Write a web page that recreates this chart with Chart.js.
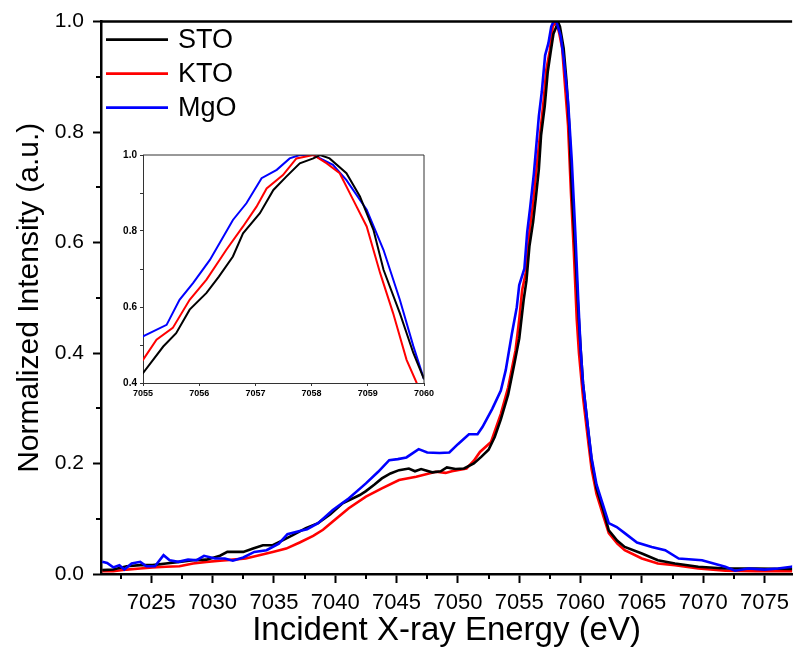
<!DOCTYPE html>
<html>
<head>
<meta charset="utf-8">
<script src="https://cdn.jsdelivr.net/npm/chart.js@4.4.1/dist/chart.umd.min.js"></script>
<style>
  body { margin: 0; background: #fff; }
  #wrap { position: relative; width: 796px; height: 652px; }
  #main { position: absolute; left: 0; top: 0; }
  #inset { position: absolute; left: 100px; top: 140px; }
</style>
</head>
<body>
<div id="wrap">
  <canvas id="main" width="796" height="652"></canvas>
  <canvas id="inset" width="340" height="265"></canvas>
</div>
<script>
// Series names and colours
const seriesNames = ['STO', 'KTO', 'MgO'];
const seriesColors = ['#000000', '#ff0000', '#0000ff'];

// STO (black): energy (eV) and normalized intensity
const stoEnergy = [7021.0, 7021.9, 7023.0, 7024.1, 7025.1, 7026.2, 7027.3, 7028.4, 7029.5, 7030.6,
  7031.2, 7032.5, 7033.3, 7034.1, 7034.9, 7035.7, 7036.5, 7037.6, 7038.6, 7039.6,
  7040.6, 7042.0, 7042.5, 7043.2, 7043.8, 7044.5, 7045.2, 7046.0, 7046.5, 7047.0,
  7047.9, 7048.6, 7049.1, 7049.8, 7050.5, 7051.3, 7051.9, 7052.5, 7053.0, 7053.5,
  7054.1, 7054.6, 7055.0, 7055.36, 7055.59, 7055.83, 7056.13, 7056.35, 7056.6, 7056.78,
  7057.08, 7057.32, 7057.55, 7057.79, 7058.03, 7058.15, 7058.32, 7058.62, 7058.86, 7059.1,
  7059.28, 7059.57, 7059.81, 7060.0, 7060.2, 7060.65, 7060.9, 7061.3, 7061.9, 7062.3,
  7063.0, 7063.6, 7065.0, 7066.3, 7067.7, 7069.6, 7071.8, 7074.3, 7077.5];
const stoIntensity = [0.007, 0.008, 0.014, 0.016, 0.016, 0.019, 0.022, 0.025, 0.026, 0.033,
  0.040, 0.040, 0.046, 0.052, 0.052, 0.061, 0.070, 0.083, 0.092, 0.108,
  0.128, 0.143, 0.150, 0.162, 0.173, 0.182, 0.188, 0.191, 0.186, 0.190,
  0.184, 0.186, 0.193, 0.190, 0.191, 0.200, 0.212, 0.225, 0.248, 0.280,
  0.325, 0.380, 0.426, 0.496, 0.531, 0.593, 0.637, 0.680, 0.733, 0.794,
  0.847, 0.908, 0.943, 0.978, 0.991, 1.000, 0.991, 0.952, 0.891, 0.803,
  0.698, 0.584, 0.479, 0.410, 0.345, 0.254, 0.206, 0.155, 0.112, 0.079,
  0.060, 0.049, 0.037, 0.025, 0.019, 0.013, 0.010, 0.010, 0.009];

// KTO (red)
const ktoEnergy = [7021.0, 7021.9, 7023.0, 7024.1, 7025.1, 7026.2, 7027.3, 7028.4, 7029.5, 7030.6,
  7031.65, 7032.7, 7033.8, 7034.9, 7036.0, 7037.1, 7038.2, 7039.0, 7039.8, 7041.1,
  7042.5, 7043.8, 7045.2, 7046.6, 7048.2, 7049.0, 7049.5, 7050.7, 7051.3, 7051.8,
  7052.7, 7053.5, 7054.1, 7054.7, 7055.0, 7055.24, 7055.53, 7055.83, 7056.13, 7056.48,
  7056.78, 7057.02, 7057.2, 7057.49, 7057.73, 7058.03, 7058.27, 7058.5, 7058.74, 7058.98,
  7059.22, 7059.45, 7059.69, 7059.87, 7060.2, 7060.65, 7060.9, 7061.3, 7061.9, 7062.3,
  7063.0, 7063.6, 7065.0, 7066.3, 7067.7, 7069.6, 7071.8, 7074.3, 7077.5];
const ktoIntensity = [0.005, 0.005, 0.008, 0.010, 0.012, 0.013, 0.014, 0.019, 0.022, 0.024,
  0.026, 0.028, 0.034, 0.040, 0.046, 0.057, 0.069, 0.080, 0.095, 0.119,
  0.140, 0.155, 0.170, 0.176, 0.185, 0.183, 0.186, 0.191, 0.205, 0.221,
  0.239, 0.290, 0.338, 0.405, 0.461, 0.514, 0.545, 0.619, 0.672, 0.750,
  0.812, 0.864, 0.912, 0.947, 0.991, 1.000, 0.978, 0.952, 0.882, 0.812,
  0.689, 0.584, 0.461, 0.400, 0.320, 0.235, 0.190, 0.145, 0.102, 0.074,
  0.055, 0.043, 0.028, 0.019, 0.016, 0.010, 0.006, 0.005, 0.005];

// MgO (blue)
const mgoEnergy = [7021.0, 7021.4, 7021.9, 7022.4, 7022.8, 7023.4, 7024.1, 7024.6, 7025.3, 7026.0,
  7026.5, 7027.2, 7028.0, 7028.7, 7029.3, 7030.2, 7031.0, 7031.65, 7032.5, 7033.4,
  7034.4, 7035.4, 7036.1, 7037.1, 7037.7, 7038.6, 7039.8, 7041.0, 7042.5, 7043.5,
  7044.4, 7045.1, 7045.8, 7046.8, 7047.5, 7048.5, 7049.3, 7050.0, 7050.9, 7051.6,
  7052.0, 7052.8, 7053.5, 7053.9, 7054.4, 7054.8, 7055.0, 7055.42, 7055.65, 7055.89,
  7056.19, 7056.6, 7056.84, 7057.11, 7057.38, 7057.61, 7057.79, 7058.03, 7058.38, 7058.62,
  7058.98, 7059.28, 7059.57, 7059.81, 7060.0, 7060.2, 7060.65, 7060.9, 7061.3, 7061.9,
  7062.3, 7062.95, 7063.6, 7064.6, 7065.8, 7066.9, 7068.0, 7069.9, 7071.8, 7072.6,
  7073.7, 7075.0, 7076.1, 7077.2, 7077.5];
const mgoIntensity = [0.022, 0.020, 0.012, 0.016, 0.008, 0.019, 0.022, 0.014, 0.014, 0.034,
  0.025, 0.022, 0.026, 0.025, 0.033, 0.028, 0.028, 0.024, 0.030, 0.040,
  0.043, 0.055, 0.072, 0.078, 0.081, 0.092, 0.116, 0.135, 0.164, 0.185,
  0.206, 0.208, 0.211, 0.226, 0.220, 0.219, 0.220, 0.235, 0.253, 0.253,
  0.266, 0.299, 0.332, 0.369, 0.435, 0.483, 0.523, 0.553, 0.619, 0.663,
  0.724, 0.829, 0.873, 0.939, 0.961, 0.991, 1.000, 1.000, 0.974, 0.934,
  0.856, 0.750, 0.619, 0.497, 0.410, 0.345, 0.256, 0.210, 0.162, 0.120,
  0.092, 0.085, 0.074, 0.057, 0.049, 0.043, 0.028, 0.025, 0.013, 0.006,
  0.010, 0.008, 0.010, 0.013, 0.016];

const seriesEnergy = [stoEnergy, ktoEnergy, mgoEnergy];
const seriesIntensity = [stoIntensity, ktoIntensity, mgoIntensity];

const FONT = '"Liberation Sans", Arial, sans-serif';

// Turn the arrays into {x, y} points
function points(i) {
  return seriesEnergy[i].map(function(e, k) {
    return { x: e, y: seriesIntensity[i][k] };
  });
}

function makeDatasets(lineWidth, orders) {
  return seriesNames.map(function(name, i) {
    return {
      label: name,
      data: points(i),
      borderColor: seriesColors[i],
      backgroundColor: seriesColors[i],
      borderWidth: lineWidth,
      pointRadius: 0,
      tension: 0,
      order: orders[i]
    };
  });
}

// Draws the top edge (and right edge for the inset) of the plot frame
const framePlugin = {
  id: 'frame',
  afterDraw(chart, args, opts) {
    const a = chart.chartArea;
    const ctx = chart.ctx;
    ctx.save();
    ctx.strokeStyle = opts.color || '#000';
    ctx.lineWidth = opts.width || 1;
    ctx.beginPath();
    ctx.moveTo(a.left, a.top);
    ctx.lineTo(a.right, a.top);
    if (opts.full) ctx.lineTo(a.right, a.bottom);
    ctx.stroke();
    ctx.restore();
  }
};

// Short minor ticks halfway between the labelled ones
const minorTicks = {
  id: 'minorTicks',
  afterDraw(chart, args, opts) {
    if (!opts.show) return;
    const ctx = chart.ctx;
    const xs = chart.scales.x;
    const ys = chart.scales.y;
    ctx.save();
    ctx.strokeStyle = '#000';
    ctx.lineWidth = 2;
    ctx.beginPath();
    for (let k = Math.ceil(xs.min / opts.xStep); k * opts.xStep <= xs.max; k++) {
      if (k % 2 === 0) continue;
      const px = Math.round(xs.getPixelForValue(k * opts.xStep));
      ctx.moveTo(px, xs.top);
      ctx.lineTo(px, xs.top + opts.len);
    }
    for (let k = Math.ceil(ys.min / opts.yStep); k * opts.yStep <= ys.max + 1e-9; k++) {
      if (k % 2 === 0) continue;
      const py = Math.round(ys.getPixelForValue(k * opts.yStep));
      ctx.moveTo(ys.right, py);
      ctx.lineTo(ys.right - opts.len, py);
    }
    ctx.stroke();
    ctx.restore();
  }
};

// Legend in the top-left corner of the plot
const cornerLegend = {
  id: 'cornerLegend',
  afterDraw(chart, args, opts) {
    if (!opts.show) return;
    const ctx = chart.ctx;
    const a = chart.chartArea;
    ctx.save();
    ctx.font = '27px ' + FONT;
    ctx.textBaseline = 'middle';
    chart.data.datasets.forEach(function(ds, i) {
      const y = a.top + 18 + i * 34;
      ctx.strokeStyle = ds.borderColor;
      ctx.lineWidth = 2.6;
      ctx.beginPath();
      ctx.moveTo(a.left + 5, y);
      ctx.lineTo(a.left + 67, y);
      ctx.stroke();
      ctx.fillStyle = '#000';
      ctx.fillText(ds.label, a.left + 77, y + 1);
    });
    ctx.restore();
  }
};

// Main chart
new Chart(document.getElementById('main'), {
  type: 'line',
  data: { datasets: makeDatasets(2.6, [1, 2, 0]) },
  plugins: [framePlugin, minorTicks, cornerLegend],
  options: {
    responsive: false,
    animation: false,
    layout: { padding: { top: 20, right: 0, left: 0, bottom: 0 } },
    plugins: {
      legend: { display: false },
      tooltip: { enabled: false },
      frame: { color: '#000', width: 2.5 },
      minorTicks: { show: true, xStep: 2.5, yStep: 0.1, len: 5 },
      cornerLegend: { show: true }
    },
    scales: {
      x: {
        type: 'linear',
        min: 7020.9,
        max: 7077.25,
        afterFit: function(scale) { scale.height = 78; },
        border: { color: '#000', width: 2.5 },
        grid: { drawOnChartArea: false, tickLength: 9, tickWidth: 2, tickColor: '#000' },
        ticks: {
          stepSize: 5,
          autoSkip: false,
          includeBounds: false,
          maxRotation: 0,
          padding: 7,
          color: '#000',
          font: { family: FONT, size: 22 },
          callback: function(v) { return String(v); }
        },
        title: {
          display: true,
          text: 'Incident X-ray Energy (eV)',
          color: '#000',
          font: { family: FONT, size: 33 },
          padding: { top: 0, bottom: 1 }
        }
      },
      y: {
        min: 0,
        max: 1,
        afterFit: function(scale) { scale.width = 101; },
        border: { color: '#000', width: 2.5 },
        grid: { drawOnChartArea: false, tickLength: 8, tickWidth: 2, tickColor: '#000' },
        ticks: {
          stepSize: 0.2,
          autoSkip: false,
          padding: 9,
          color: '#000',
          font: { family: FONT, size: 21 },
          callback: function(v) { return v.toFixed(1); }
        },
        title: {
          display: true,
          text: 'Normalized Intensity (a.u.)',
          color: '#000',
          font: { family: FONT, size: 30 },
          padding: { top: 12, bottom: 0 }
        }
      }
    }
  }
});

// Inset: zoom on the white line peak
new Chart(document.getElementById('inset'), {
  type: 'line',
  data: { datasets: makeDatasets(2, [0, 1, 2]) },
  plugins: [framePlugin],
  options: {
    responsive: false,
    animation: false,
    layout: { padding: { top: 15, right: 16, left: 0, bottom: 0 } },
    plugins: {
      legend: { display: false },
      tooltip: { enabled: false },
      frame: { color: '#333', width: 1, full: true }
    },
    scales: {
      x: {
        type: 'linear',
        min: 7055,
        max: 7060,
        afterFit: function(scale) { scale.height = 22; },
        border: { color: '#333', width: 1 },
        grid: { drawOnChartArea: false, tickLength: 3, tickColor: '#333' },
        ticks: {
          stepSize: 1,
          maxRotation: 0,
          padding: 2,
          color: '#000',
          font: { family: FONT, size: 9, weight: 'bold' },
          callback: function(v) { return String(v); }
        }
      },
      y: {
        min: 0.4,
        max: 1,
        afterFit: function(scale) { scale.width = 43; },
        border: { color: '#333', width: 1 },
        grid: { drawOnChartArea: false, tickLength: 3, tickColor: '#333' },
        ticks: {
          stepSize: 0.1,
          autoSkip: false,
          padding: 3,
          color: '#000',
          font: { family: FONT, size: 10, weight: 'bold' },
          callback: function(v) {
            const n = Math.round(v * 10);
            return (n % 2 === 0) ? (n / 10).toFixed(1) : '';
          }
        }
      }
    }
  }
});
</script>
</body>
</html>
